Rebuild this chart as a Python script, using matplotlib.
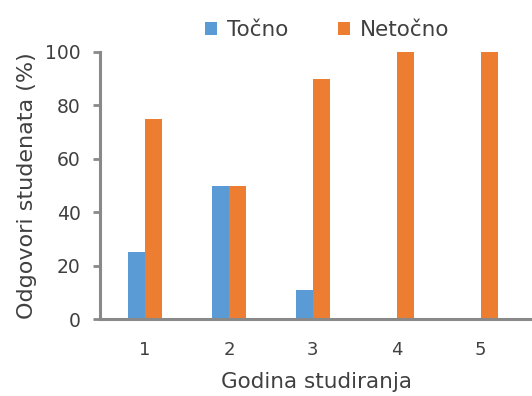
import numpy as np
import matplotlib.pyplot as plt

plt.rcParams['font.family'] = ['DejaVu Sans']

godine = ['1', '2', '3', '4', '5']
tocno = [25, 50, 11, 0, 0]
netocno = [75, 50, 90, 100, 100]

plava = '#5B9BD5'
narancasta = '#ED7D31'
siva = '#898989'
tekst = '#404040'

fig = plt.figure(figsize=(5.32, 3.96), dpi=100)
ax = fig.add_axes([0.188, 0.194, 0.812, 0.675])

x = np.arange(1, len(godine) + 1)
w = 0.2
ax.bar(x - w / 2, tocno, w, color=plava, label='Točno')
ax.bar(x + w / 2, netocno, w, color=narancasta, label='Netočno')

ax.set_xlim(0.464, 5.61)
ax.set_ylim(0, 100)
ax.set_yticks(range(0, 101, 20))
ax.set_xticks(x)
ax.set_xticklabels(godine)

for s in ['top', 'right']:
    ax.spines[s].set_visible(False)
for s in ['left', 'bottom']:
    ax.spines[s].set_color(siva)
    ax.spines[s].set_linewidth(2.2)

ax.tick_params(axis='y', length=5, width=2, color=siva, labelsize=13.5,
               labelcolor=tekst, pad=9)
ax.tick_params(axis='x', length=0, labelsize=13, labelcolor=tekst, pad=16)

ax.set_xlabel('Godina studiranja', fontsize=15.5, color=tekst, labelpad=9)
ax.set_ylabel('Odgovori studenata (%)', fontsize=16, color=tekst, labelpad=6)

fig.legend(loc='center', bbox_to_anchor=(0.615, 0.924), ncol=2, frameon=False,
           fontsize=15.5, handlelength=0.55, handleheight=0.55, columnspacing=2.3,
           handletextpad=0.45, labelcolor=tekst)

fig.savefig('out.png', dpi=100)
